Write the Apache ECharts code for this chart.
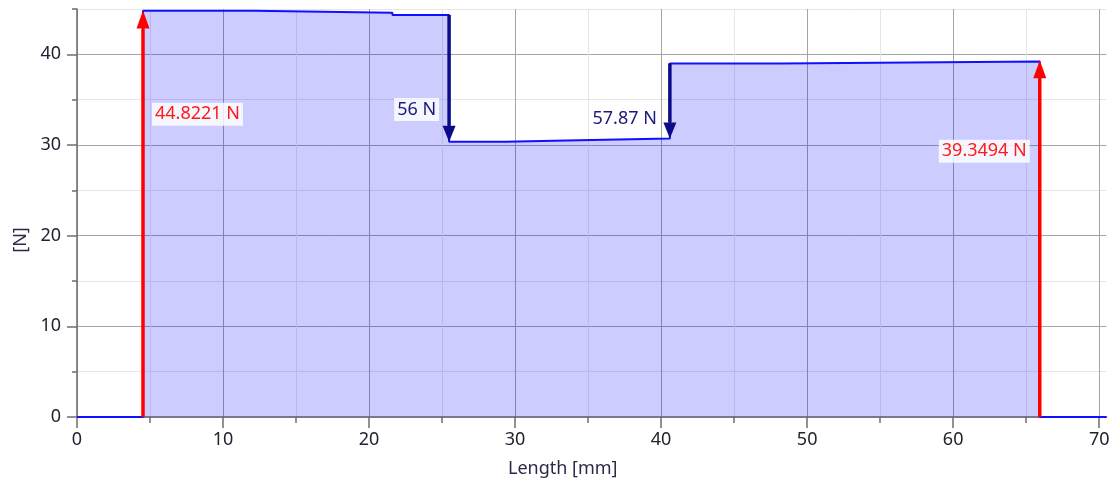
<!DOCTYPE html>
<html>
<head>
<meta charset="utf-8">
<script src="https://cdn.jsdelivr.net/npm/echarts@6/dist/echarts.min.js"></script>
<style>
  html, body { margin: 0; padding: 0; background: #ffffff; }
  #chart { width: 1112px; height: 481px; }
</style>
</head>
<body>
<div id="chart"></div>
<script>
// Shear-force profile along the beam: each level starts at profileX[i] and holds until the next one
const profileX = [0, 4.52, 12.1, 21.6, 25.48, 29.3, 33.5, 40.6, 48.2, 65.93];
const profileN = [0, 44.82, 44.6, 44.35, 30.35, 30.5, 30.72, 39.0, 39.2, 0];
const profileEnd = 70.5;

// Support reactions (red, pointing up from the axis)
const reactionX = [4.52, 65.93];
const reactionN = [44.8221, 39.3494];
const reactionLabels = ['44.8221 N', '39.3494 N'];
const reactionSide = ['right', 'left'];

// Applied loads (dark blue, pointing down)
const loadX = [25.48, 40.6];
const loadFrom = [44.35, 39.0];
const loadTo = [30.35, 30.72];
const loadLabels = ['56 N', '57.87 N'];
const loadSide = ['left', 'left'];

// Axis ticks
const xMajorTicks = [0, 10, 20, 30, 40, 50, 60, 70];
const xMinorTicks = [5, 15, 25, 35, 45, 55, 65];
const yMajorTicks = [0, 10, 20, 30, 40];
const yMinorTicks = [5, 15, 25, 35, 45];

const FONT = 'Noto Sans';

// Square-step outline: vertical jump at each level start, flat until the next one
const profile = [];
profileX.forEach((x, i) => {
  if (i > 0) profile.push([x, profileN[i - 1]]);
  profile.push([x, profileN[i]]);
});
profile.push([profileEnd, profileN[profileN.length - 1]]);

const arrows = [];
reactionX.forEach((x, i) => arrows.push({
  value: [x, 0, reactionN[i]], label: reactionLabels[i], side: reactionSide[i],
  color: '#ff0000', textColor: '#ff1a1a', headLen: 18
}));
loadX.forEach((x, i) => arrows.push({
  value: [x, loadFrom[i], loadTo[i]], label: loadLabels[i], side: loadSide[i],
  color: '#0c0c8a', textColor: '#1a1a7a', headLen: 16
}));

function renderArrow(params, api) {
  const item = arrows[params.dataIndex];
  const x = api.value(0), tail = api.value(1), head = api.value(2);
  const pTail = api.coord([x, tail]);
  const pHead = api.coord([x, head]);
  const dir = pHead[1] < pTail[1] ? -1 : 1;   // -1 points up on screen
  const headHalf = 6.5;
  const baseY = pHead[1] - dir * item.headLen;
  const labelVal = tail + 0.745 * (head - tail);
  const pLabel = api.coord([x, labelVal]);
  const right = item.side === 'right';
  return {
    type: 'group',
    children: [
      {
        type: 'line',
        shape: { x1: pTail[0], y1: pTail[1], x2: pHead[0], y2: baseY },
        style: { stroke: item.color, lineWidth: 3.5 }
      },
      {
        type: 'polygon',
        shape: { points: [[pHead[0], pHead[1]], [pHead[0] - headHalf, baseY], [pHead[0] + headHalf, baseY]] },
        style: { fill: item.color }
      },
      {
        type: 'text',
        x: right ? pLabel[0] + 9 : pLabel[0] - 10,
        y: pLabel[1],
        style: {
          text: item.label,
          fill: item.textColor,
          font: '18px "' + FONT + '"',
          align: right ? 'left' : 'right',
          verticalAlign: 'middle',
          backgroundColor: 'rgba(255,255,255,0.82)',
          padding: [3, 3, 2, 3]
        }
      }
    ]
  };
}

const axisLineStyle = { color: '#6e6e6e', width: 1.5 };

const chart = echarts.init(document.getElementById('chart'), null, { renderer: 'canvas' });
chart.setOption({
  animation: false,
  backgroundColor: '#ffffff',
  grid: { left: 77, right: 5.5, top: 9, bottom: 64, containLabel: false, outerBoundsMode: 'none' },
  xAxis: [
    {
      type: 'value', min: 0, max: 70.5,
      name: 'Length [mm]', nameLocation: 'middle', nameGap: 43,
      nameTextStyle: { fontFamily: FONT, fontSize: 18, color: '#2a2a48', padding: [0, 58, 0, 0] },
      axisLine: { show: true, lineStyle: axisLineStyle },
      axisTick: { show: true, length: 11, lineStyle: axisLineStyle, customValues: xMajorTicks },
      axisLabel: { customValues: xMajorTicks, margin: 14, fontFamily: FONT, fontSize: 18, color: '#222230' },
      splitLine: { show: true, lineStyle: { color: '#a4a4a4', width: 1 } }
    },
    {
      type: 'value', min: 0, max: 70.5, position: 'bottom',
      axisLine: { show: false },
      axisTick: { show: true, length: 6, lineStyle: axisLineStyle, customValues: xMinorTicks },
      axisLabel: { show: false, customValues: xMinorTicks },
      splitLine: { show: true, lineStyle: { color: '#e6e6e6', width: 1 } }
    }
  ],
  yAxis: [
    {
      type: 'value', min: 0, max: 45,
      name: '[N]', nameLocation: 'middle', nameGap: 46, nameRotate: 90,
      nameTextStyle: { fontFamily: FONT, fontSize: 18, color: '#2a2a48', padding: [0, 54, 0, 0] },
      axisLine: { show: true, lineStyle: axisLineStyle },
      axisTick: { show: true, length: 10, lineStyle: axisLineStyle, customValues: yMajorTicks },
      axisLabel: { customValues: yMajorTicks, margin: 16, fontFamily: FONT, fontSize: 18, color: '#222230' },
      splitLine: { show: true, lineStyle: { color: '#a4a4a4', width: 1 } }
    },
    {
      type: 'value', min: 0, max: 45, position: 'left',
      axisLine: { show: false },
      axisTick: { show: true, length: 5, lineStyle: axisLineStyle, customValues: yMinorTicks },
      axisLabel: { show: false, customValues: yMinorTicks },
      splitLine: { show: true, lineStyle: { color: '#e6e6e6', width: 1 } }
    }
  ],
  series: [
    {
      type: 'line',
      xAxisIndex: 0, yAxisIndex: 0,
      data: profile,
      symbol: 'none',
      lineStyle: { color: '#1010ff', width: 2 },
      areaStyle: { color: 'rgba(0,0,255,0.2)', opacity: 1 },
      z: 2
    },
    {
      type: 'custom',
      xAxisIndex: 0, yAxisIndex: 0,
      data: arrows.map(a => a.value),
      renderItem: renderArrow,
      clip: false,
      z: 5
    }
  ]
});
</script>
</body>
</html>
